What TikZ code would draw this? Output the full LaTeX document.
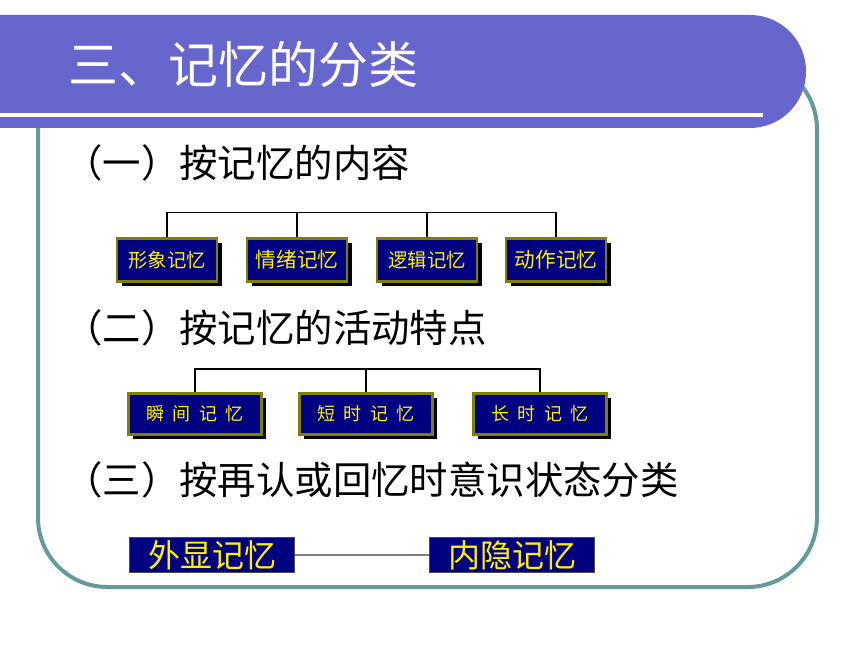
\documentclass[tikz,border=0pt]{standalone}
\usepackage{fontspec}
\setmainfont{Noto Sans CJK SC}
\usepackage{xcolor}
\usetikzlibrary{shadows}
\definecolor{barblue}{RGB}{102,102,204}
\definecolor{frameteal}{RGB}{102,153,153}
\definecolor{boxnavy}{RGB}{0,0,128}
\definecolor{boxolive}{RGB}{128,128,0}

\tikzset{
  heading/.style={anchor=west, inner sep=0pt, font=\fontsize{28.8}{31}\selectfont},
  membox/.style={rectangle, fill=boxnavy, draw=boxolive, line width=1.8pt, text=yellow,
    drop shadow={shadow xshift=3.5pt, shadow yshift=-3.5pt, fill=black, opacity=1}},
  plainbox/.style={rectangle, fill=boxnavy, draw=black!70, line width=0.6pt, text=yellow,
    minimum width=124pt, minimum height=26pt, inner sep=0pt, font=\fontsize{24}{26}\selectfont},
  conn/.style={black, line width=1.3pt}
}
\newcommand{\gap}{\hspace{0.45em}}

\begin{document}
\begin{tikzpicture}[x=0.75pt, y=-0.75pt]
      \useasboundingbox (0,0) rectangle (860,645);

      % frame and title bar
      \draw[frameteal, line width=3pt, rounded corners=52pt] (38,60) rectangle (817,587);
      \fill[barblue, rounded corners=42pt] (-120,15) rectangle (806,128);
      \draw[white, line width=2.5pt] (-5,115) -- (763,115);
      \node[anchor=west, inner sep=0pt, text=white, font=\fontsize{37.5}{40}\selectfont] (title) at (68,64) {三、记忆的分类};

      % (一)
      \node[heading] (h1) at (64,163) {（一）按记忆的内容};
      \node[membox, minimum width=75pt, minimum height=32pt, font=\fontsize{14.5}{16}\selectfont] (xx) at (167,260) {形象记忆};
      \node[membox, minimum width=75pt, minimum height=32pt, font=\fontsize{15.5}{16}\selectfont] (qx) at (297,260) {情绪记忆};
      \node[membox, minimum width=75pt, minimum height=32pt, font=\fontsize{14.5}{16}\selectfont] (lj) at (427,260) {逻辑记忆};
      \node[membox, minimum width=75pt, minimum height=32pt, font=\fontsize{15.5}{16}\selectfont] (dz) at (556,260) {动作记忆};

      \draw[conn] (xx.north) -- ++(0,-25) -| (dz.north);
      \draw[conn] (qx.north) -- ++(0,-25);
      \draw[conn] (lj.north) -- ++(0,-25);

      % (二)
      \node[heading] (h2) at (64,328) {（二）按记忆的活动特点};
      \node[membox, minimum width=100pt, minimum height=31pt, font=\fontsize{13.5}{16}\selectfont] (sj) at (195,414) {瞬\gap 间\gap 记\gap 忆};
      \node[membox, minimum width=100pt, minimum height=31pt, font=\fontsize{13.5}{16}\selectfont] (ds) at (366,414) {短\gap 时\gap 记\gap 忆};
      \node[membox, minimum width=100pt, minimum height=31pt, font=\fontsize{13.5}{16}\selectfont] (cs) at (540,414) {长\gap 时\gap 记\gap 忆};

      \draw[conn] (sj.north) -- ++(0,-23) -| (cs.north);
      \draw[conn] (ds.north) -- ++(0,-23);

      % (三)
      \node[heading] (h3) at (64,480) {（三）按再认或回忆时意识状态分类};
      \node[plainbox] (wx) at (212,555) {外显记忆};
      \node[plainbox] (ny) at (512,555) {内隐记忆};

      \draw[gray, line width=1pt] (wx) -- (ny);
\end{tikzpicture}
\end{document}
